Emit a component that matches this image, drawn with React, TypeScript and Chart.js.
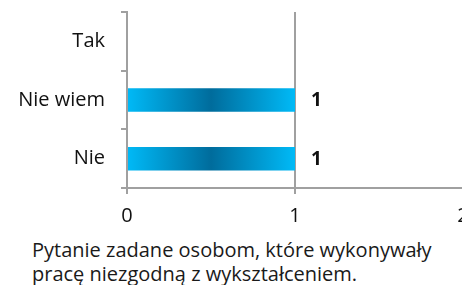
import React, { useEffect, useRef } from "react";
import { Chart, registerables } from "chart.js";

Chart.register(...registerables);

const categories = ["Tak", "Nie wiem", "Nie"];
const values = [0, 1, 1];
const xTicks = [0, 1, 2];
const caption = ["Pytanie zadane osobom, które wykonywały", "pracę niezgodną z wykształceniem."];

const FONT = "'Open Sans', sans-serif";

const labelPlugin = {
  id: "valueLabels",
  afterDatasetsDraw(chart: any) {
    const ctx = chart.ctx;
    const meta = chart.getDatasetMeta(0);
    ctx.save();
    ctx.font = `bold 19px ${FONT}`;
    ctx.fillStyle = "#111";
    ctx.textAlign = "left";
    ctx.textBaseline = "middle";
    meta.data.forEach((bar: any, i: number) => {
      const v = values[i];
      if (!v) return;
      ctx.fillText(String(v), bar.x + 16, bar.y + 1);
    });
    ctx.restore();
  },
};

export default function App() {
  const ref = useRef<HTMLCanvasElement>(null);
  useEffect(() => {
    if (!ref.current) return;
    const chart = new Chart(ref.current, {
      type: "bar",
      data: {
        labels: categories,
        datasets: [
          {
            data: values,
            barPercentage: 0.4,
            categoryPercentage: 1,
            borderWidth: 0,
            backgroundColor: (c: any) => {
              const ch = c.chart;
              if (!ch.chartArea) return "#0090c8";
              const xs = ch.scales.x;
              const x0 = xs.getPixelForValue(0);
              const x1 = xs.getPixelForValue(c.raw || 1);
              const g = ch.ctx.createLinearGradient(x0, 0, x1, 0);
              g.addColorStop(0, "#00baf7");
              g.addColorStop(0.5, "#006c9c");
              g.addColorStop(1, "#00baf7");
              return g;
            },
          },
        ],
      },
      options: {
        indexAxis: "y",
        animation: false,
        responsive: false,
        maintainAspectRatio: false,
        layout: { padding: { top: 12, right: 37, left: 0, bottom: 0 } },
        plugins: { legend: { display: false }, tooltip: { enabled: false } },
        scales: {
          x: {
            min: 0,
            max: 2,
            afterBuildTicks: (s: any) => {
              s.ticks = xTicks.map((v) => ({ value: v }));
            },
            afterFit: (s: any) => {
              s.height = 42;
            },
            grid: { color: "#a0a0a0", lineWidth: 2, tickLength: 6, drawTicks: true },
            border: { color: "#a0a0a0", width: 2 },
            ticks: { color: "#111", font: { family: FONT, size: 20 }, padding: 10 },
          },
          y: {
            offset: true,
            afterFit: (s: any) => {
              s.width = 127;
              s.paddingTop = 0;
              s.paddingBottom = 0;
            },
            grid: { color: "#a0a0a0", lineWidth: 2, tickLength: 6, drawOnChartArea: false, offset: true },
            border: { color: "#a0a0a0", width: 2 },
            ticks: { color: "#111", font: { family: FONT, size: 20 }, padding: 16 },
          },
        },
      },
      plugins: [labelPlugin],
    } as any);
    return () => chart.destroy();
  }, []);
  return (
    <div style={{ position: "absolute", left: 0, top: 0, width: 462, height: 285, overflow: "hidden", background: "#fff" }}>
      <canvas ref={ref} width={500} height={230} style={{ position: "absolute", left: 0, top: 0, width: 500, height: 230 }} />
      <div
        style={{
          position: "absolute",
          left: 32,
          top: 238,
          fontFamily: FONT,
          fontSize: 20,
          lineHeight: "24px",
          color: "#1a1a1a",
          whiteSpace: "nowrap",
        }}
      >
        {caption.map((l, i) => (
          <div key={i}>{l}</div>
        ))}
      </div>
    </div>
  );
}
